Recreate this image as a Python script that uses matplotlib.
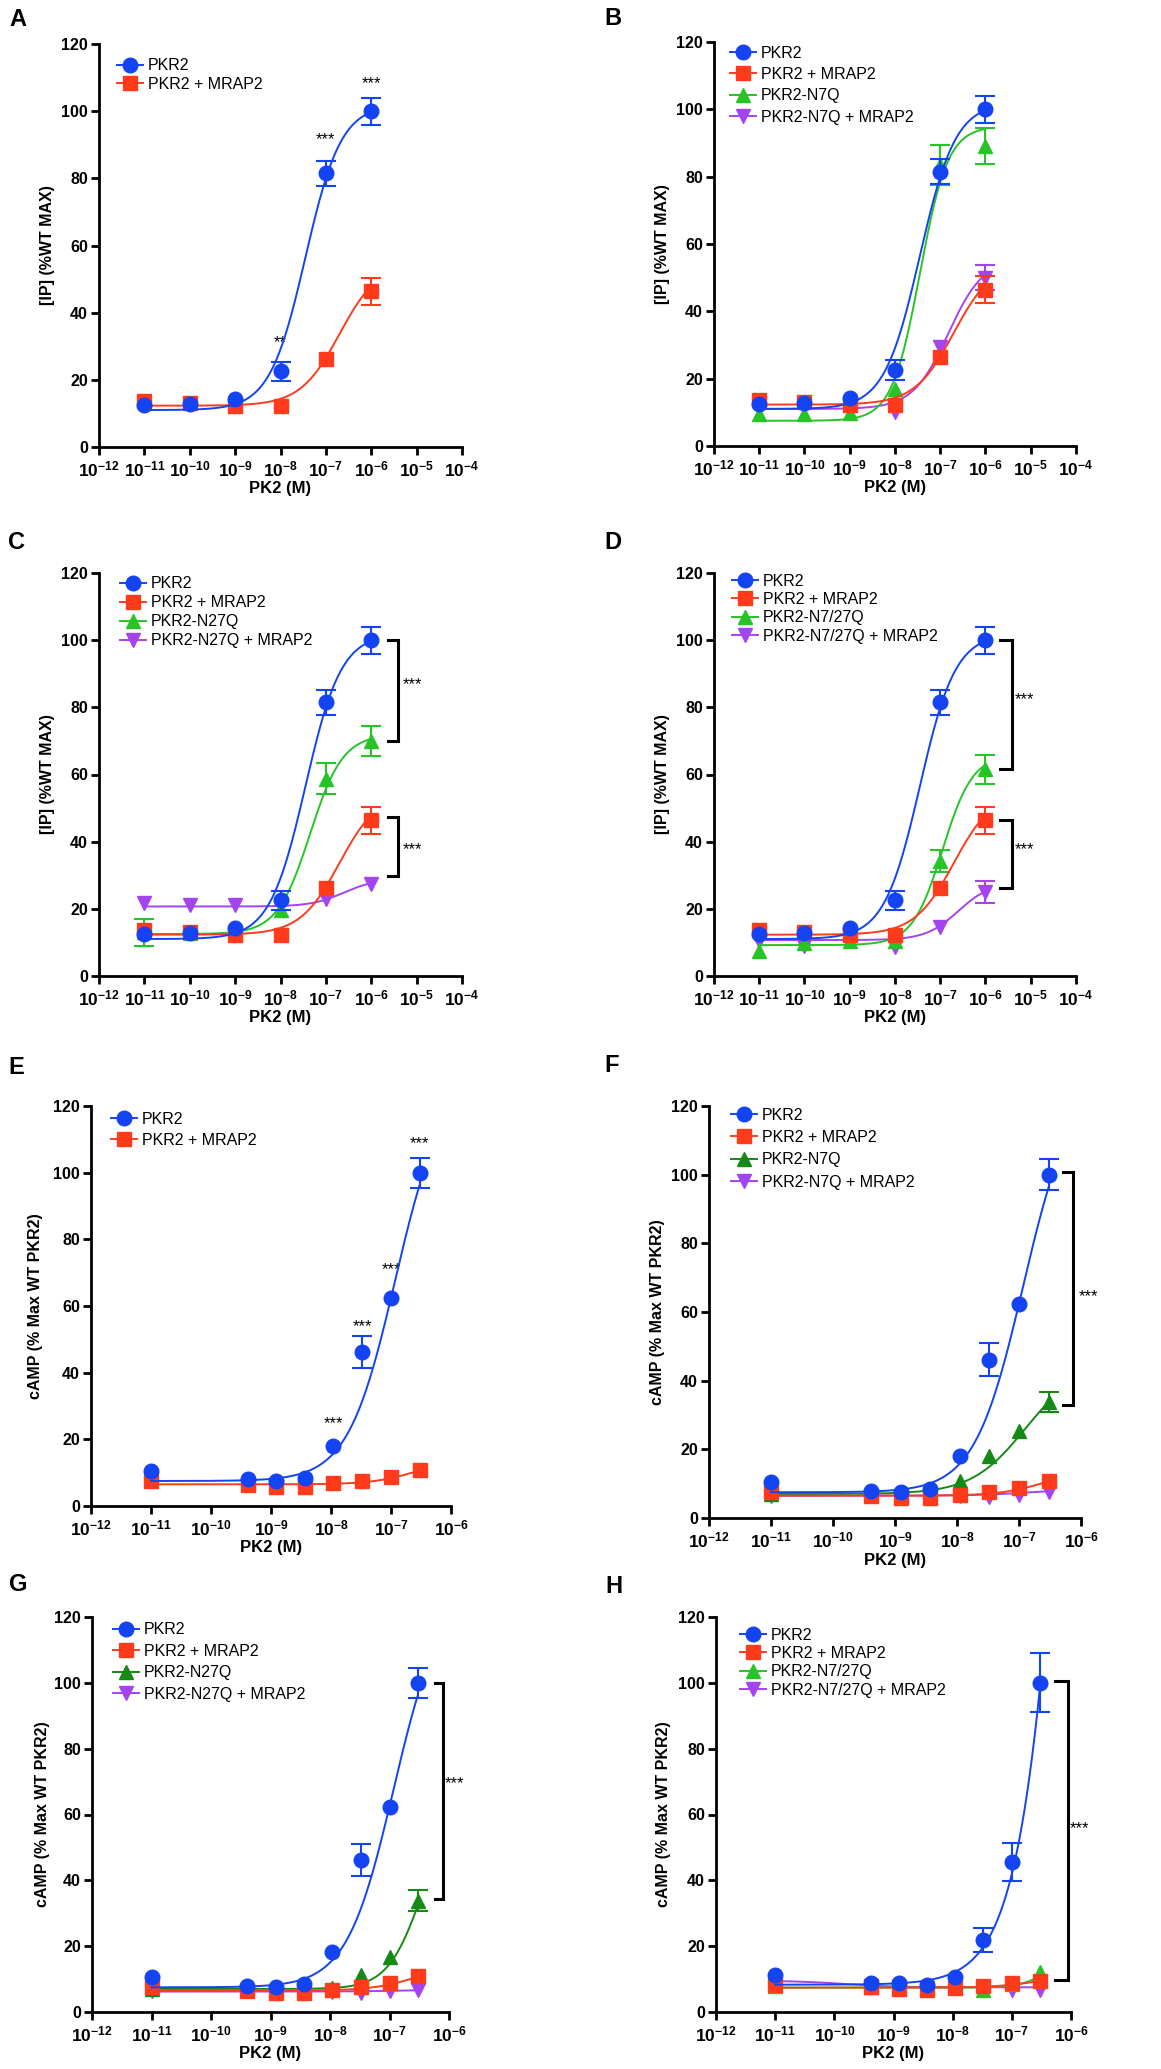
import numpy as np
import matplotlib
matplotlib.use("Agg")
import matplotlib.pyplot as plt
from matplotlib.lines import Line2D

plt.rcParams['font.family'] = ['Liberation Sans', 'DejaVu Sans']
plt.rcParams['mathtext.fontset'] = 'custom'
plt.rcParams['mathtext.rm'] = 'Liberation Sans'
plt.rcParams['mathtext.bf'] = 'Liberation Sans:bold'

W, H = 1161, 2069
fig = plt.figure(figsize=(W / 100, H / 100), dpi=100)

BLUE = '#1443f2'
RED = '#ff3b1c'
GREEN = '#27c427'
DKGREEN = '#168a16'
PURPLE = '#a443f0'

# ---- IP accumulation (A-D) ----
IP_X = [1e-11, 1e-10, 1e-9, 1e-8, 1e-7, 1e-6]
IP_PKR2 = [12.5, 12.7, 14.3, 22.5, 81.5, 100.0]
IP_PKR2_ERR = [0, 0, 0, 2.9, 3.7, 4.0]
IP_MRAP2 = [13.8, 13.0, 12.3, 12.3, 26.3, 46.4]
IP_MRAP2_ERR = [0, 0, 0, 0, 0, 4.0]
IP_N7Q = [9.6, 9.5, 9.8, 16.8, 83.5, 89.2]
IP_N7Q_ERR = [0, 0, 0, 0, 6.0, 5.3]
IP_N7Q_M = [12.0, 11.8, 11.5, 10.0, 29.5, 50.0]
IP_N7Q_M_ERR = [0, 0, 0, 0, 0, 3.8]
IP_N27Q = [13.0, 12.8, 14.0, 19.8, 58.8, 70.0]
IP_N27Q_ERR = [4.0, 0, 0, 0, 4.6, 4.4]
IP_N27Q_M = [21.6, 21.0, 21.2, 21.0, 23.0, 27.5]
IP_N27Q_M_ERR = [0, 0, 0, 0, 0, 0]
IP_N727Q = [7.5, 9.7, 10.5, 10.5, 34.2, 61.5]
IP_N727Q_ERR = [0, 0, 0, 0, 3.2, 4.2]
IP_N727Q_M = [10.5, 9.0, 10.5, 8.5, 14.7, 25.0]
IP_N727Q_M_ERR = [0, 0, 0, 0, 0, 3.3]

# fitted curves: bottom, top, logEC50, hill
FIT_IP_PKR2 = [11.0, 102.0, -7.45, 1.1]
FIT_IP_MRAP2 = [12.3, 55.0, -6.7, 1.0]
FIT_IP_N7Q = [7.5, 95.0, -7.45, 1.4]
FIT_IP_N7Q_M = [11.0, 56.0, -6.82, 1.1]
FIT_IP_N27Q = [12.5, 72.0, -7.35, 1.2]
FIT_IP_N27Q_M = [20.7, 29.0, -6.6, 1.2]
FIT_IP_N727Q = [9.2, 66.0, -6.95, 1.3]
FIT_IP_N727Q_M = [10.7, 28.0, -6.6, 1.2]

# ---- cAMP accumulation (E-H) ----
CAMP_X = [1e-11, 4.1e-10, 1.23e-9, 3.7e-9, 1.1e-8, 3.3e-8, 1e-7, 3e-7]
CAMP_PKR2 = [10.5, 8.0, 7.5, 8.5, 18.1, 46.1, 62.3, 100.0]
CAMP_PKR2_ERR = [0, 0, 0, 0, 0, 4.8, 0, 4.5]
CAMP_MRAP2 = [7.6, 6.3, 5.8, 5.8, 6.8, 7.5, 8.8, 10.8]
CAMP_MRAP2_ERR = [0, 0, 0, 0, 0, 0, 0, 0]
CAMP_N7Q = [7.0, 7.0, 7.0, 7.5, 10.7, 18.1, 25.2, 33.8]
CAMP_N7Q_ERR = [0, 0, 0, 0, 0, 0, 0, 3.0]
CAMP_N7Q_M = [6.5, 6.5, 6.5, 6.5, 6.3, 6.1, 6.8, 7.5]
CAMP_N27Q = [7.0, 6.8, 6.8, 7.0, 7.2, 11.3, 16.7, 33.8]
CAMP_N27Q_ERR = [0, 0, 0, 0, 0, 0, 0, 3.2]
CAMP_N27Q_M = [6.3, 6.3, 6.2, 6.2, 6.2, 5.8, 6.3, 6.8]
CAMP_H_PKR2 = [11.3, 8.8, 8.8, 8.3, 10.6, 21.8, 45.6, 100.0]
CAMP_H_PKR2_ERR = [0, 0, 0, 0, 0, 3.7, 5.8, 9.0]
CAMP_H_MRAP2 = [8.3, 7.6, 7.1, 6.8, 7.3, 7.8, 8.8, 9.4]
CAMP_H_N727Q = [7.8, 7.6, 7.5, 7.4, 7.5, 6.8, 8.5, 12.3]
CAMP_H_N727Q_M = [9.2, 7.8, 7.6, 7.4, 7.4, 7.6, 6.8, 6.6]
NO_ERR8 = [0] * 8

FIT_CAMP_PKR2 = [7.5, 128.0, -6.93, 1.1]
FIT_CAMP_MRAP2 = [6.5, 14.0, -6.6, 1.2]
FIT_CAMP_N7Q = [7.0, 45.0, -6.9, 1.0]
FIT_CAMP_N7Q_M = [6.5, 8.5, -6.8, 1.0]
FIT_CAMP_N27Q = [7.0, 65.0, -6.45, 1.5]
FIT_CAMP_N27Q_M = [6.2, 6.8, -6.8, 1.0]
FIT_CAMP_H_PKR2 = [8.3, 600.0, -5.78, 1.0]
FIT_CAMP_H_MRAP2 = [7.4, 11.0, -6.6, 1.2]
FIT_CAMP_H_N727Q = [7.4, 20.0, -6.3, 1.8]
FIT_CAMP_H_N727Q_M = [9.5, 7.5, -9.8, 1.0]

IP_YLABEL = '[IP] (%WT MAX)'
CAMP_YLABEL = 'cAMP (% Max WT PKR2)'
XLABEL = 'PK2 (M)'


def logistic(x, p):
    bottom, top, logec, hill = p
    return bottom + (top - bottom) / (1 + 10 ** ((logec - np.log10(x)) * hill))


MS = {'o': 10.5, 's': 9.5, '^': 10, 'v': 10}


def panel(px, letter, letter_px, xs, xmax_exp, series, ylabel, ylab_x,
          leg_px, leg_gap, stars=(), brackets=()):
    x0, y0, x1, y1 = px
    ax = fig.add_axes([x0 / W, 1 - y1 / H, (x1 - x0) / W, (y1 - y0) / H])
    xs = np.array(xs)
    xx = np.logspace(np.log10(xs[0]), np.log10(xs[-1]), 400)
    n = len(series)
    for i, (label, ys, err, fit, color, marker) in enumerate(reversed(series)):
        z = 3 + i
        ys = np.array(ys, dtype=float)
        err = np.array(err, dtype=float)
        ax.plot(xx, logistic(xx, fit), color=color, lw=1.4, zorder=z)
        m = err > 0
        if m.any():
            ax.errorbar(xs[m], ys[m], yerr=err[m], fmt='none', ecolor=color,
                        elinewidth=1.5, capsize=7, capthick=1.5, zorder=z)
        ax.plot(xs, ys, ls='none', marker=marker, ms=MS[marker], color=color,
                mec=color, zorder=z + 0.5, clip_on=False)

    ax.set_xscale('log')
    ax.set_xlim(1e-12, 10.0 ** xmax_exp)
    ax.set_ylim(0, 120)
    exps = list(range(-12, xmax_exp + 1))
    ax.set_xticks([10.0 ** e for e in exps])
    ax.set_xticklabels([r'$\mathbf{10^{%d}}$' % e for e in exps])
    ax.xaxis.set_minor_locator(matplotlib.ticker.NullLocator())
    ax.set_yticks(range(0, 121, 20))
    ax.set_yticklabels([str(v) for v in range(0, 121, 20)], fontweight='bold')
    ax.tick_params(direction='out', length=6, width=2, labelsize=11.5, pad=2)
    ax.tick_params(axis='x', labelsize=12.5, pad=3)
    for s in ('top', 'right'):
        ax.spines[s].set_visible(False)
    for s in ('left', 'bottom'):
        ax.spines[s].set_linewidth(2)
    ax.set_ylabel(ylabel, fontsize=11.5, fontweight='bold')
    ax.yaxis.set_label_coords(ylab_x, 0.5)
    ax.set_xlabel(XLABEL, fontsize=12, fontweight='bold')
    ax.xaxis.set_label_coords(0.5, -0.085)

    handles = [Line2D([], [], color=c, marker=mk, ms=MS[mk], lw=1.4)
               for (_, _, _, _, c, mk) in series]
    labels = [s[0] for s in series]
    fs = 16.0
    mx, my = leg_px
    ax.legend(handles, labels, loc='upper left', frameon=False,
              bbox_to_anchor=((mx - 12.8) / W, 1 - (my - 9.5) / H),
              bbox_transform=fig.transFigure, borderpad=0, borderaxespad=0,
              handlelength=1.6, handletextpad=0.3,
              labelspacing=(leg_gap - 18.5) / fs, prop={'size': 11.5})

    for (sx, sy, txt) in stars:
        ax.text(sx, sy, txt, ha='center', va='center', fontsize=12, clip_on=False)
    for (xa, xb, ya, yb) in brackets:
        ax.plot([xa, xb, xb, xa], [ya, ya, yb, yb], color='k', lw=2.2,
                clip_on=False, solid_joinstyle='miter')

    fig.text(letter_px[0] / W, 1 - letter_px[1] / H, letter, fontsize=17,
             fontweight='bold', ha='left', va='top')
    return ax


S_PKR2 = ('PKR2', IP_PKR2, IP_PKR2_ERR, FIT_IP_PKR2, BLUE, 'o')
S_MRAP2 = ('PKR2 + MRAP2', IP_MRAP2, IP_MRAP2_ERR, FIT_IP_MRAP2, RED, 's')

panel((99, 44, 462, 447), 'A', (9, 8), IP_X, -4, [S_PKR2, S_MRAP2],
      IP_YLABEL, -0.121, (130, 68), 22,
      stars=[(1e-8, 31.0, '**'), (1e-7, 91.5, '***'), (1e-6, 108.3, '***')])

panel((714, 42, 1076, 446), 'B', (604, 7), IP_X, -4,
      [S_PKR2, S_MRAP2,
       ('PKR2-N7Q', IP_N7Q, IP_N7Q_ERR, FIT_IP_N7Q, GREEN, '^'),
       ('PKR2-N7Q + MRAP2', IP_N7Q_M, IP_N7Q_M_ERR, FIT_IP_N7Q_M, PURPLE, 'v')],
      IP_YLABEL, -0.122, (743, 55), 25)

panel((99, 573, 462, 976), 'C', (8, 531), IP_X, -4,
      [S_PKR2, S_MRAP2,
       ('PKR2-N27Q', IP_N27Q, IP_N27Q_ERR, FIT_IP_N27Q, GREEN, '^'),
       ('PKR2-N27Q + MRAP2', IP_N27Q_M, IP_N27Q_M_ERR, FIT_IP_N27Q_M, PURPLE, 'v')],
      IP_YLABEL, -0.121, (133, 586), 22.5,
      stars=[(10 ** -5.09, 86.7, '***'), (10 ** -5.09, 37.5, '***')],
      brackets=[(10 ** -5.62, 10 ** -5.4, 100, 70), (10 ** -5.62, 10 ** -5.4, 47.2, 29.8)])

panel((714, 573, 1076, 976), 'D', (604, 531), IP_X, -4,
      [S_PKR2, S_MRAP2,
       ('PKR2-N7/27Q', IP_N727Q, IP_N727Q_ERR, FIT_IP_N727Q, GREEN, '^'),
       ('PKR2-N7/27Q + MRAP2', IP_N727Q_M, IP_N727Q_M_ERR, FIT_IP_N727Q_M, PURPLE, 'v')],
      IP_YLABEL, -0.122, (745, 583), 22,
      stars=[(10 ** -5.13, 82.2, '***'), (10 ** -5.13, 37.5, '***')],
      brackets=[(10 ** -5.67, 10 ** -5.42, 100, 61.5), (10 ** -5.67, 10 ** -5.42, 46.5, 26.3)])

C_PKR2 = ('PKR2', CAMP_PKR2, CAMP_PKR2_ERR, FIT_CAMP_PKR2, BLUE, 'o')
C_MRAP2 = ('PKR2 + MRAP2', CAMP_MRAP2, CAMP_MRAP2_ERR, FIT_CAMP_MRAP2, RED, 's')

panel((91, 1106, 451, 1506), 'E', (8, 1056), CAMP_X, -6, [C_PKR2, C_MRAP2],
      CAMP_YLABEL, -0.133, (124, 1121), 25,
      stars=[(1.1e-8, 24.8, '***'), (3.3e-8, 53.8, '***'),
             (1e-7, 70.8, '***'), (3e-7, 108.8, '***')])

panel((709, 1106, 1081, 1518), 'F', (604, 1054), CAMP_X, -6,
      [C_PKR2, C_MRAP2,
       ('PKR2-N7Q', CAMP_N7Q, CAMP_N7Q_ERR, FIT_CAMP_N7Q, DKGREEN, '^'),
       ('PKR2-N7Q + MRAP2', CAMP_N7Q_M, NO_ERR8, FIT_CAMP_N7Q_M, PURPLE, 'v')],
      CAMP_YLABEL, -0.118, (744, 1117), 26,
      stars=[(10 ** -5.88, 64.5, '***')],
      brackets=[(10 ** -6.29, 10 ** -6.13, 100.7, 32.8)])

panel((92, 1617, 449, 2012), 'G', (9, 1573), CAMP_X, -6,
      [C_PKR2, C_MRAP2,
       ('PKR2-N27Q', CAMP_N27Q, CAMP_N27Q_ERR, FIT_CAMP_N27Q, DKGREEN, '^'),
       ('PKR2-N27Q + MRAP2', CAMP_N27Q_M, NO_ERR8, FIT_CAMP_N27Q_M, PURPLE, 'v')],
      CAMP_YLABEL, -0.118, (126, 1632), 25,
      stars=[(10 ** -5.9, 69.5, '***')],
      brackets=[(10 ** -6.24, 10 ** -6.1, 99.8, 34.3)])

panel((716, 1617, 1071, 2012), 'H', (605, 1575), CAMP_X, -6,
      [('PKR2', CAMP_H_PKR2, CAMP_H_PKR2_ERR, FIT_CAMP_H_PKR2, BLUE, 'o'),
       ('PKR2 + MRAP2', CAMP_H_MRAP2, NO_ERR8, FIT_CAMP_H_MRAP2, RED, 's'),
       ('PKR2-N7/27Q', CAMP_H_N727Q, NO_ERR8, FIT_CAMP_H_N727Q, GREEN, '^'),
       ('PKR2-N7/27Q + MRAP2', CAMP_H_N727Q_M, NO_ERR8, FIT_CAMP_H_N727Q_M, PURPLE, 'v')],
      CAMP_YLABEL, -0.127, (753, 1637), 22,
      stars=[(10 ** -5.85, 55.7, '***')],
      brackets=[(10 ** -6.27, 10 ** -6.05, 100.5, 9.8)])

fig.savefig('out.png', dpi=100)
